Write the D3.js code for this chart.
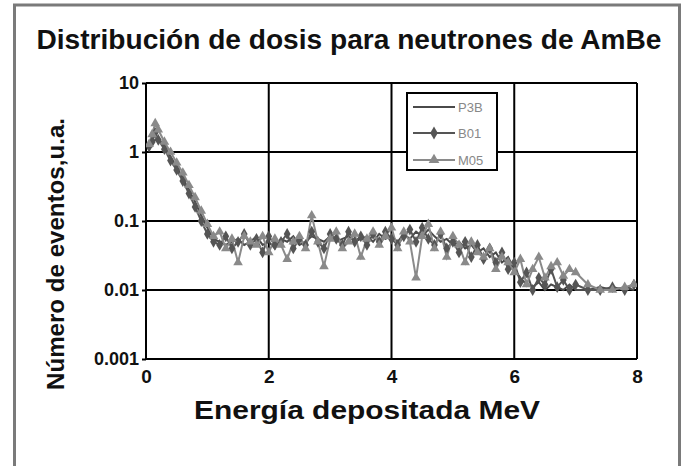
<!DOCTYPE html>
<html><head><meta charset="utf-8">
<script src="https://cdn.jsdelivr.net/npm/d3@7"></script>
<style>
body{margin:0;background:#fff;}
text{font-family:"Liberation Sans",Arial,Helvetica,sans-serif;font-weight:bold;fill:#111;}
</style></head>
<body><svg id="c" width="686" height="466"></svg>
<script>
const title = "Distribución de dosis para neutrones de AmBe";
const xTitle = "Energía depositada MeV";
const yTitle = "Número de eventos,u.a.";
const xTicks = [0, 2, 4, 6, 8];
const yTicks = [0.001, 0.01, 0.1, 1, 10];
const yTickLabels = ["0.001", "0.01", "0.1", "1", "10"];
const seriesNames = ["P3B", "B01", "M05"];

const energies = [0.05,0.1,0.15,0.2,0.3,0.4,0.5,0.6,0.7,0.8,0.9,1.0,1.1,1.2,1.3,1.4,1.5,1.6,1.7,1.8,1.9,2.0,2.1,2.2,2.3,2.4,2.5,2.6,2.7,2.8,2.9,3.0,3.1,3.2,3.3,3.4,3.5,3.6,3.7,3.8,3.9,4.0,4.1,4.2,4.3,4.4,4.5,4.6,4.7,4.8,4.9,5.0,5.1,5.2,5.3,5.4,5.5,5.6,5.7,5.8,5.9,6.0,6.1,6.2,6.3,6.4,6.5,6.6,6.7,6.8,6.9,7.0,7.2,7.4,7.6,7.8,7.95];

const p3b = [1.1,1.3,1.5,1.6,1.2,0.85,0.6,0.42,0.28,0.19,0.12,0.08,0.055,0.05,0.045,0.05,0.055,0.045,0.05,0.06,0.045,0.05,0.04,0.055,0.05,0.06,0.045,0.05,0.06,0.055,0.05,0.06,0.05,0.055,0.06,0.05,0.055,0.06,0.05,0.065,0.055,0.06,0.05,0.065,0.055,0.07,0.06,0.075,0.06,0.05,0.055,0.045,0.05,0.04,0.045,0.035,0.04,0.03,0.035,0.025,0.03,0.02,0.015,0.012,0.011,0.013,0.01,0.012,0.011,0.01,0.012,0.01,0.01,0.011,0.01,0.011,0.01];

const b01 = [1.2,1.4,1.9,1.5,1.1,0.75,0.55,0.38,0.25,0.16,0.1,0.065,0.05,0.045,0.06,0.04,0.05,0.065,0.045,0.055,0.035,0.06,0.045,0.05,0.065,0.04,0.055,0.045,0.07,0.05,0.04,0.065,0.055,0.045,0.07,0.05,0.06,0.045,0.065,0.05,0.07,0.055,0.045,0.06,0.075,0.05,0.08,0.055,0.045,0.065,0.04,0.05,0.035,0.05,0.03,0.045,0.028,0.04,0.025,0.035,0.02,0.025,0.013,0.018,0.01,0.015,0.012,0.02,0.011,0.014,0.01,0.012,0.01,0.01,0.011,0.01,0.012];

const m05 = [1.3,1.8,2.6,2.1,1.4,1.0,0.7,0.5,0.33,0.22,0.14,0.09,0.06,0.07,0.04,0.055,0.025,0.06,0.05,0.045,0.06,0.035,0.055,0.045,0.028,0.05,0.06,0.04,0.12,0.05,0.022,0.055,0.07,0.04,0.05,0.065,0.03,0.055,0.07,0.045,0.06,0.08,0.04,0.07,0.05,0.015,0.06,0.09,0.04,0.07,0.03,0.06,0.045,0.025,0.05,0.035,0.03,0.04,0.02,0.03,0.025,0.018,0.028,0.012,0.02,0.03,0.015,0.022,0.025,0.016,0.02,0.018,0.012,0.01,0.01,0.011,0.012];

const svg = d3.select("#c");
const W = 686, H = 466;
const m = {l:146, r:49, t:83, b:107};
const pw = W - m.l - m.r, ph = H - m.t - m.b;

svg.append("rect").attr("x",0).attr("y",0).attr("width",W).attr("height",H).attr("fill","#fff");
svg.append("path").attr("d",`M14.5,${H} V5 H679.5 V${H}`).attr("fill","none").attr("stroke","#7a7a7a").attr("stroke-width",3);

svg.append("text").attr("x",349).attr("y",49).attr("text-anchor","middle").attr("font-size",27)
  .attr("textLength",625).attr("lengthAdjust","spacingAndGlyphs").text(title);

const x = d3.scaleLinear().domain([0,8]).range([m.l, m.l+pw]);
const y = d3.scaleLog().domain([0.001,10]).range([m.t+ph, m.t]);

const g = svg.append("g");
g.selectAll(".hg").data(yTicks).join("line")
  .attr("x1",x(0)).attr("x2",x(8)).attr("y1",d=>y(d)).attr("y2",d=>y(d))
  .attr("stroke","#000").attr("stroke-width",2);
g.selectAll(".vg").data(xTicks).join("line")
  .attr("y1",y(0.001)).attr("y2",y(10)).attr("x1",d=>x(d)).attr("x2",d=>x(d))
  .attr("stroke","#000").attr("stroke-width",2);

const ya = d3.axisLeft(y).tickValues(yTicks).tickFormat((d,i)=>yTickLabels[i]).tickSize(4).tickPadding(3);
const yg = svg.append("g").attr("transform",`translate(${m.l},0)`).call(ya);
yg.select(".domain").remove();
yg.selectAll("line").attr("stroke","#000").attr("stroke-width",2);
yg.selectAll("text").attr("font-size",18).attr("font-family","Liberation Sans, Arial, sans-serif").attr("font-weight","bold").attr("fill","#111");

const xa = d3.axisBottom(x).tickValues(xTicks).tickFormat(d3.format("d")).tickSize(0).tickPadding(11);
const xg = svg.append("g").attr("transform",`translate(0,${m.t+ph})`).call(xa);
xg.select(".domain").remove();
xg.selectAll("text").attr("font-size",19).attr("font-family","Liberation Sans, Arial, sans-serif").attr("font-weight","bold").attr("fill","#111");

const data = [p3b,b01,m05];
const colors = ["#4a4a4a","#555","#8a8a8a"];
const line = d3.line().x((d,i)=>x(energies[i])).y(d=>y(d));
svg.append("clipPath").attr("id","cp").append("rect").attr("x",m.l).attr("y",m.t).attr("width",pw).attr("height",ph);
const sg = svg.append("g").attr("clip-path","url(#cp)");
data.forEach((s,k)=>{
  sg.append("path").datum(s).attr("d",line).attr("fill","none").attr("stroke",colors[k]).attr("stroke-width",2);
});
const diamond = d3.symbol().type(d3.symbolDiamond).size(40);
const tri = d3.symbol().type(d3.symbolTriangle).size(40);
sg.selectAll(".bd").data(b01).join("path").attr("d",diamond)
  .attr("transform",(d,i)=>`translate(${x(energies[i])},${y(d)})`).attr("fill",colors[1]);
sg.selectAll(".mt").data(m05).join("path").attr("d",tri)
  .attr("transform",(d,i)=>`translate(${x(energies[i])},${y(d)})`).attr("fill",colors[2]);

const lg = svg.append("g");
lg.append("rect").attr("x",407).attr("y",93).attr("width",90).attr("height",77).attr("fill","#fff").attr("stroke","#000").attr("stroke-width",2);
const ly = [107,133,160];
seriesNames.forEach((n,k)=>{
  lg.append("line").attr("x1",413).attr("x2",455).attr("y1",ly[k]).attr("y2",ly[k]).attr("stroke",colors[k]).attr("stroke-width",2);
  if(k===1) lg.append("path").attr("d",d3.symbol().type(d3.symbolDiamond).size(50)).attr("transform",`translate(434,${ly[k]})`).attr("fill",colors[1]);
  if(k===2) lg.append("path").attr("d",d3.symbol().type(d3.symbolTriangle).size(50)).attr("transform",`translate(434,${ly[k]})`).attr("fill",colors[2]);
  lg.append("text").attr("x",458).attr("y",ly[k]+5).attr("font-size",13)
    .style("font-weight","normal").style("fill","#888").text(n);
});

svg.append("text").attr("x",367).attr("y",419).attr("text-anchor","middle").attr("font-size",26)
  .attr("textLength",346).attr("lengthAdjust","spacingAndGlyphs").text(xTitle);
svg.append("text").attr("transform","translate(64,254) rotate(-90)").attr("text-anchor","middle").attr("font-size",24)
  .attr("textLength",272).attr("lengthAdjust","spacingAndGlyphs").text(yTitle);
</script></body></html>
